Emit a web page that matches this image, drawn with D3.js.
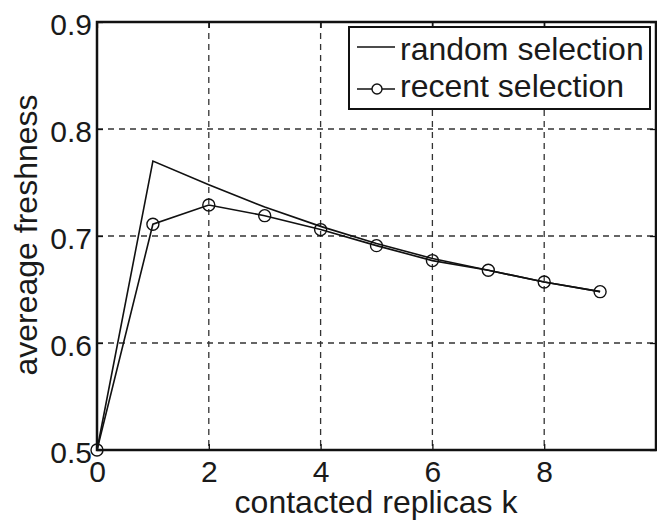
<!DOCTYPE html>
<html>
<head>
<meta charset="utf-8">
<script src="https://d3js.org/d3.v7.min.js"></script>
<style>
  body { margin: 0; background: #fff; }
  text { font-family: "Liberation Sans", Arial, Helvetica, sans-serif; fill: #1a1a1a; }
</style>
</head>
<body>
<div id="chart"></div>
<script>
// data
var kValues = [0, 1, 2, 3, 4, 5, 6, 7, 8, 9];
var randomSel = [0.5, 0.770, 0.748, 0.727, 0.709, 0.693, 0.679, 0.668, 0.657, 0.648];
var recentSel = [0.5, 0.711, 0.729, 0.719, 0.706, 0.691, 0.677, 0.668, 0.657, 0.648];
var xTicks = [0, 2, 4, 6, 8];
var yTicks = [0.5, 0.6, 0.7, 0.8, 0.9];
var seriesNames = ["random selection", "recent selection"];

var W = 657, H = 520;
var margin = { top: 22, right: 1, bottom: 70, left: 97 };
var w = W - margin.left - margin.right;
var h = H - margin.top - margin.bottom;

var svg = d3.select('#chart').append('svg')
	.attr('width', W)
	.attr('height', H);

var g = svg.append('g')
	.attr('transform', 'translate(' + margin.left + ',' + margin.top + ')');

var x = d3.scaleLinear().domain([0, 10]).range([0, w]);
var y = d3.scaleLinear().domain([0.5, 0.9]).range([h, 0]);

// dashed grid
g.append('g').selectAll('line')
	.data(xTicks.slice(1))
	.enter().append('line')
	.attr('x1', function (d) { return x(d); })
	.attr('x2', function (d) { return x(d); })
	.attr('y1', 0).attr('y2', h)
	.attr('stroke', '#333').attr('stroke-width', 1.3)
	.attr('stroke-dasharray', '6,5');
g.append('g').selectAll('line')
	.data(yTicks.slice(1, -1))
	.enter().append('line')
	.attr('y1', function (d) { return y(d); })
	.attr('y2', function (d) { return y(d); })
	.attr('x1', 0).attr('x2', w)
	.attr('stroke', '#333').attr('stroke-width', 1.3)
	.attr('stroke-dasharray', '6,5');

// axes
var xAxis = g.append('g')
	.attr('transform', 'translate(0,' + h + ')')
	.call(d3.axisBottom(x).tickValues(xTicks).tickSize(-6).tickFormat(d3.format('d')));
var yAxis = g.append('g')
	.call(d3.axisLeft(y).tickValues(yTicks).tickSize(-6).tickPadding(5).tickFormat(d3.format('.1f')));
g.append('g')
	.call(d3.axisTop(x).tickValues(xTicks).tickSize(-6).tickFormat(''));
g.append('g')
	.attr('transform', 'translate(' + w + ',0)')
	.call(d3.axisRight(y).tickValues(yTicks).tickSize(-6).tickFormat(''));

g.selectAll('.domain').remove();
g.selectAll('.tick line').attr('stroke', '#111').attr('stroke-width', 1.3);
xAxis.selectAll('text').style('font-size', '30px').attr('fill', '#1a1a1a')
	.attr('y', 32).attr('dy', 0);
yAxis.selectAll('text').style('font-size', '30px').attr('fill', '#1a1a1a')
	.attr('dy', '0.42em');

// frame
g.append('rect')
	.attr('width', w).attr('height', h)
	.attr('fill', 'none').attr('stroke', '#111').attr('stroke-width', 2.5);

// lines
var line = d3.line()
	.x(function (d, i) { return x(kValues[i]); })
	.y(function (d) { return y(d); });

g.append('path')
	.datum(randomSel)
	.attr('d', line)
	.attr('fill', 'none').attr('stroke', '#111').attr('stroke-width', 1.6);

g.append('path')
	.datum(recentSel)
	.attr('d', line)
	.attr('fill', 'none').attr('stroke', '#111').attr('stroke-width', 1.6);

g.append('g').selectAll('circle')
	.data(recentSel)
	.enter().append('circle')
	.attr('cx', function (d, i) { return x(kValues[i]); })
	.attr('cy', function (d) { return y(d); })
	.attr('r', 6)
	.attr('fill', 'none').attr('stroke', '#111').attr('stroke-width', 1.4);

// axis labels
svg.append('text')
	.attr('x', 376)
	.attr('y', 513)
	.attr('text-anchor', 'middle')
	.style('font-size', '32px')
	.text('contacted replicas k');

svg.append('text')
	.attr('transform', 'translate(37,235) rotate(-90)')
	.attr('text-anchor', 'middle')
	.style('font-size', '32px')
	.text('avereage freshness');

// legend
var lg = svg.append('g').attr('transform', 'translate(349,27)');
lg.append('rect')
	.attr('width', 301).attr('height', 82)
	.attr('fill', '#fff').attr('stroke', '#111').attr('stroke-width', 2);
lg.append('line')
	.attr('x1', 8).attr('x2', 46).attr('y1', 20).attr('y2', 20)
	.attr('stroke', '#111').attr('stroke-width', 1.6);
lg.append('line')
	.attr('x1', 8).attr('x2', 46).attr('y1', 62).attr('y2', 62)
	.attr('stroke', '#111').attr('stroke-width', 1.6);
lg.append('circle')
	.attr('cx', 28).attr('cy', 62).attr('r', 5)
	.attr('fill', '#fff').attr('stroke', '#111').attr('stroke-width', 1.4);
lg.selectAll('text.lab')
	.data(seriesNames)
	.enter().append('text')
	.attr('class', 'lab')
	.attr('x', 51)
	.attr('y', function (d, i) { return 33 + i * 37; })
	.style('font-size', '32px')
	.text(function (d) { return d; });
</script>
</body>
</html>
